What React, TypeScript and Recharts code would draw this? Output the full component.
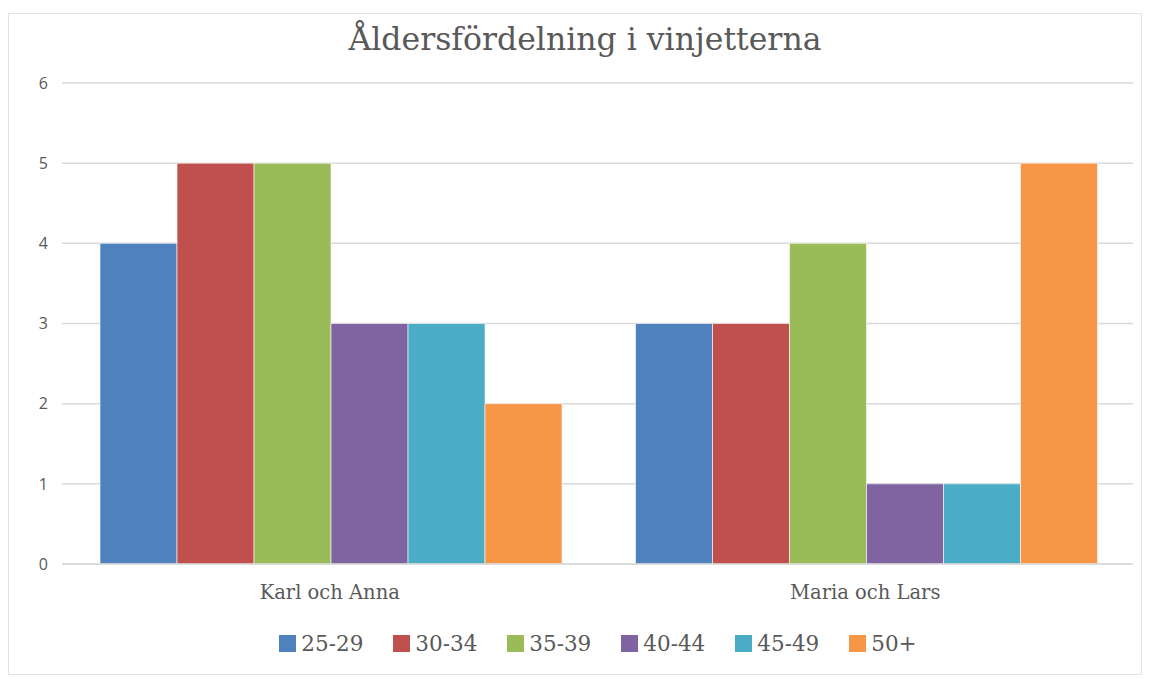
import React from 'react';
import { BarChart, Bar, XAxis, YAxis, CartesianGrid } from 'recharts';

const categories = ['Karl och Anna', 'Maria och Lars'];
const ageGroups = ['25-29', '30-34', '35-39', '40-44', '45-49', '50+'];
const karlOchAnna = [4, 5, 5, 3, 3, 2];
const mariaOchLars = [3, 3, 4, 1, 1, 5];
const yTicks = [0, 1, 2, 3, 4, 5, 6];

const COLORS = ['#4F81BD', '#C0504D', '#9BBB59', '#8064A2', '#4BACC6', '#F79646'];

const seriesByCategory = [karlOchAnna, mariaOchLars];

const data = categories.map((name, ci) => {
  const row: Record<string, string | number> = { name };
  ageGroups.forEach((g, gi) => {
    row[g] = seriesByCategory[ci][gi];
  });
  return row;
});

const serif = '"DejaVu Serif", "Liberation Serif", serif';

export default function App() {
  return (
    <div
      style={{
        position: 'relative',
        width: 1134,
        height: 662,
        marginTop: 5,
        border: '1px solid #e3e3e3',
        boxSizing: 'border-box',
        background: '#fff',
      }}
    >
      <div
        style={{
          position: 'absolute',
          top: 7,
          left: 20,
          width: 1112,
          textAlign: 'center',
          fontFamily: serif,
          fontSize: 31.5,
          color: '#595959',
        }}
      >
        Åldersfördelning i vinjetterna
      </div>
      <BarChart
        width={1132}
        height={660}
        data={data}
        margin={{ top: 69, right: 8, bottom: 80, left: 0 }}
        barCategoryGap="7.1%"
        barGap={0}
      >
        <CartesianGrid vertical={false} stroke="#d9d9d9" strokeWidth={1.5} />
        <YAxis
          width={53}
          domain={[0, 6]}
          ticks={yTicks}
          axisLine={false}
          tickLine={false}
          tickMargin={8}
          tick={{ fill: '#595959', fontSize: 16, fontFamily: '"Open Sans", sans-serif' }}
        />
        <XAxis
          dataKey="name"
          axisLine={{ stroke: '#d9d9d9', strokeWidth: 1.5 }}
          tickLine={false}
          tickMargin={15}
          tick={{ fill: '#595959', fontSize: 19.5, fontFamily: serif }}
        />
        {ageGroups.map((g, i) => (
          <Bar key={g} dataKey={g} fill={COLORS[i]} stroke="#ffffff" strokeWidth={0.6} isAnimationActive={false} />
        ))}
      </BarChart>
      <div
        style={{
          position: 'absolute',
          top: 617,
          left: 46,
          width: 1086,
          display: 'flex',
          justifyContent: 'center',
          fontFamily: serif,
          fontSize: 21.5,
          color: '#595959',
        }}
      >
        {ageGroups.map((g, i) => (
          <div key={g} style={{ display: 'flex', alignItems: 'center', marginLeft: i === 0 ? 0 : 30 }}>
            <span style={{ display: 'inline-block', width: 17, height: 17, background: COLORS[i], marginRight: 5 }} />
            <span>{g}</span>
          </div>
        ))}
      </div>
    </div>
  );
}
